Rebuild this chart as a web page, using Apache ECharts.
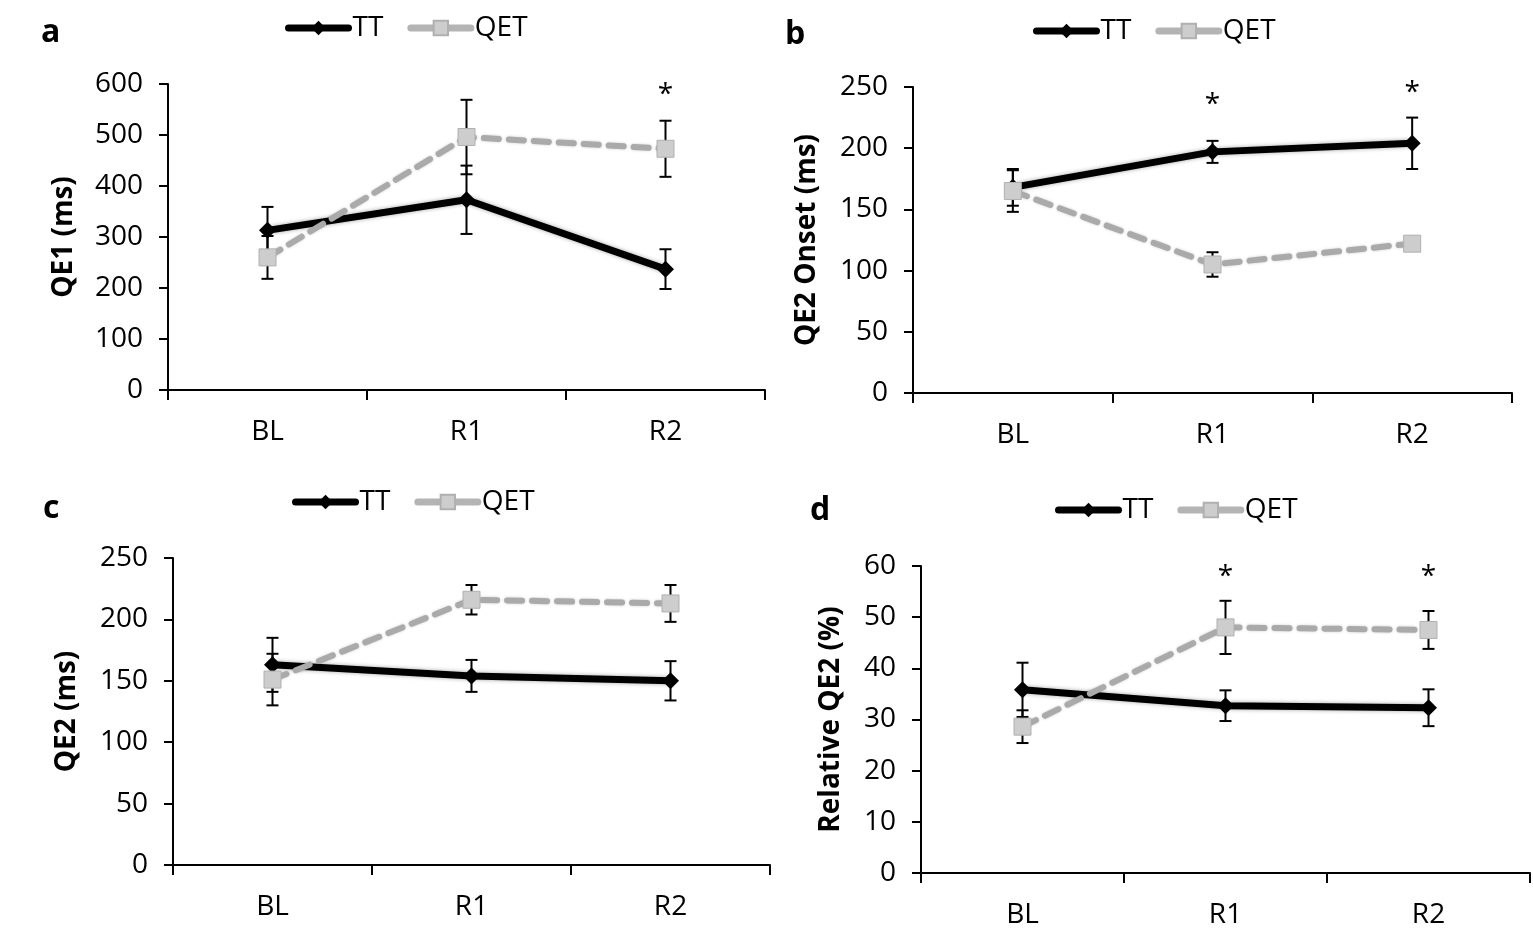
<!DOCTYPE html>
<html>
<head>
<meta charset="utf-8">
<script src="https://cdn.jsdelivr.net/npm/echarts@6/dist/echarts.min.js"></script>
<style>
    html, body { margin: 0; padding: 0; background: #fff; }
    #main { width: 1533px; height: 935px; }
</style>
</head>
<body>
<div id="main"></div>
<script>
// Shared categories (test sessions)
var categories = ['BL', 'R1', 'R2'];

// a: QE1 (ms)
var qe1TT = [313, 373, 237];
var qe1TTErr = [46, 67, 39];
var qe1QET = [260, 496, 473];
var qe1QETErr = [42, 73, 55];
var qe1Stars = [null, null, 578];

// b: QE2 Onset (ms)
var onsetTT = [168, 197, 204];
var onsetTTErr = [15, 9, 21];
var onsetQET = [165, 105, 122];
var onsetQETErr = [17, 10, 3];
var onsetStars = [null, 235, 245];

// c: QE2 (ms)
var qe2TT = [163, 154, 150];
var qe2TTErr = [22, 13, 16];
var qe2QET = [151, 216, 213];
var qe2QETErr = [21, 12, 15];
var qe2Stars = [null, 251, 251];

// d: Relative QE2 (%)
var relTT = [35.8, 32.7, 32.3];
var relTTErr = [5.3, 3.0, 3.6];
var relQET = [28.6, 48.0, 47.5];
var relQETErr = [3.2, 5.2, 3.7];
var relStars = [null, 57.8, 57.8];

var FONT = '"Open Sans", "Noto Sans", sans-serif';

var panels = [
    { letter: 'a', yName: 'QE1 (ms)', max: 600, step: 100, tt: qe1TT, ttErr: qe1TTErr, qet: qe1QET, qetErr: qe1QETErr, stars: qe1Stars,
      grid: { left: 168, top: 84, width: 597, height: 306 }, nameGap: 90, legendLeft: 280, legendTop: 9, letterPos: [36, 12] },
    { letter: 'b', yName: 'QE2 Onset (ms)', max: 250, step: 50, tt: onsetTT, ttErr: onsetTTErr, qet: onsetQET, qetErr: onsetQETErr, stars: onsetStars,
      grid: { left: 913, top: 87, width: 599, height: 306 }, nameGap: 92, legendLeft: 1028, legendTop: 12, letterPos: [780, 14] },
    { letter: 'c', yName: 'QE2 (ms)', max: 250, step: 50, tt: qe2TT, ttErr: qe2TTErr, qet: qe2QET, qetErr: qe2QETErr, stars: qe2Stars,
      grid: { left: 173, top: 558, width: 597, height: 307 }, nameGap: 92, legendLeft: 287, legendTop: 483, letterPos: [38, 488] },
    { letter: 'd', yName: 'Relative QE2 (%)', max: 60, step: 10, tt: relTT, ttErr: relTTErr, qet: relQET, qetErr: relQETErr, stars: relStars,
      grid: { left: 921, top: 566, width: 609, height: 307 }, nameGap: 76, legendLeft: 1050, legendTop: 491, letterPos: [805, 490] }
];

function errorBarItem(params, api) {
    var x = api.value(0), y = api.value(1), e = api.value(2);
    var top = api.coord([x, y + e]);
    var bot = api.coord([x, y - e]);
    var hw = 6;
    var style = { stroke: '#000', lineWidth: 2 };
    return {
        type: 'group',
        children: [
            { type: 'line', shape: { x1: top[0], y1: top[1], x2: bot[0], y2: bot[1] }, style: style },
            { type: 'line', shape: { x1: top[0] - hw, y1: top[1], x2: top[0] + hw, y2: top[1] }, style: style },
            { type: 'line', shape: { x1: bot[0] - hw, y1: bot[1], x2: bot[0] + hw, y2: bot[1] }, style: style }
        ]
    };
}

function errData(means, errs) {
    return means.map(function (m, i) { return [i, m, errs[i]]; });
}

var option = {
    animation: false,
    backgroundColor: '#fff',
    textStyle: { fontFamily: FONT },
    title: [], legend: [], grid: [], xAxis: [], yAxis: [], series: []
};

panels.forEach(function (p, k) {
    option.title.push({
        text: p.letter, left: p.letterPos[0], top: p.letterPos[1],
        textStyle: { fontFamily: FONT, fontSize: 32, fontWeight: 'bold', color: '#000' }
    });
    option.legend.push({
        left: p.legendLeft, top: p.legendTop,
        data: [
            { name: 'TT', lineStyle: { width: 7, type: 'solid', cap: 'round' } },
            { name: 'QET', lineStyle: { width: 7, type: 'solid', cap: 'round', color: '#b4b4b4' } }
        ],
        itemWidth: 60, itemHeight: 18, itemGap: 24,
        selectedMode: false,
        textStyle: { fontFamily: FONT, fontSize: 28, color: '#000', padding: [0, 0, 0, -1] }
    });
    option.grid.push(p.grid);
    option.xAxis.push({
        gridIndex: k, type: 'category', data: categories, boundaryGap: true,
        axisLine: { lineStyle: { color: '#000', width: 2 } },
        axisTick: { show: true, length: 10, lineStyle: { color: '#000', width: 2 } },
        axisLabel: { fontFamily: FONT, fontSize: 28, color: '#000', margin: 28 },
        splitLine: { show: false }
    });
    option.yAxis.push({
        gridIndex: k, type: 'value', min: 0, max: p.max, interval: p.step,
        name: p.yName, nameLocation: 'middle', nameGap: p.nameGap,
        nameTextStyle: { fontFamily: FONT, fontSize: 28, fontWeight: 'bold', color: '#000' },
        axisLine: { show: true, lineStyle: { color: '#000', width: 2 } },
        axisTick: { show: true, length: 9, lineStyle: { color: '#000', width: 2 } },
        axisLabel: { fontFamily: FONT, fontSize: 28, color: '#000', margin: 25 },
        splitLine: { show: false }
    });
    option.series.push(
        {
            name: 'TT err', type: 'custom', xAxisIndex: k, yAxisIndex: k, z: 2,
            renderItem: errorBarItem, data: errData(p.tt, p.ttErr)
        },
        {
            name: 'QET err', type: 'custom', xAxisIndex: k, yAxisIndex: k, z: 2,
            renderItem: errorBarItem, data: errData(p.qet, p.qetErr)
        },
        {
            name: 'TT', type: 'line', xAxisIndex: k, yAxisIndex: k, z: 3,
            data: p.tt, symbol: 'diamond', symbolSize: 17,
            lineStyle: { color: '#000', width: 7, shadowBlur: 4, shadowColor: 'rgba(0,0,0,0.35)' },
            itemStyle: { color: '#000' }
        },
        {
            name: 'QET', type: 'line', xAxisIndex: k, yAxisIndex: k, z: 4,
            data: p.qet, symbol: 'rect', symbolSize: 17,
            lineStyle: { color: '#aaaaaa', width: 6, type: [15, 10], cap: 'round', shadowBlur: 3, shadowColor: 'rgba(0,0,0,0.2)' },
            itemStyle: { color: '#cdcdcd', borderColor: '#b0b0b0', borderWidth: 1 }
        },
        {
            name: 'sig', type: 'scatter', xAxisIndex: k, yAxisIndex: k, z: 5,
            data: p.stars, symbolSize: 1, itemStyle: { color: 'rgba(0,0,0,0)', opacity: 1 },
            label: { show: true, position: 'inside', formatter: '*', fontFamily: FONT, fontSize: 28, color: '#000', opacity: 1 }
        }
    );
});

var chart = echarts.init(document.getElementById('main'));
chart.setOption(option);
</script>
</body>
</html>
